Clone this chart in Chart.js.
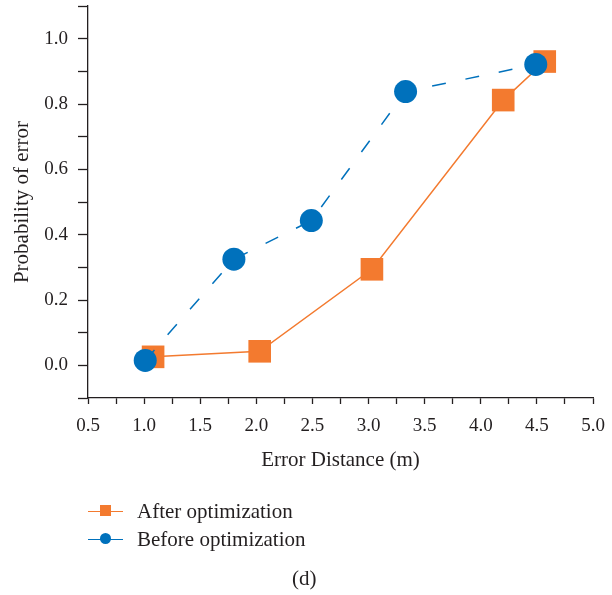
<!DOCTYPE html>
<html lang="en">
  <head>
    <meta charset="UTF-8" />
    <title>Probability of error</title>
    <script src="https://cdn.jsdelivr.net/npm/chart.js"></script>
    <style>
      body { margin: 0; background: #fff; }
      #wrap { position: relative; width: 612px; height: 595px; font-family: "Liberation Serif", serif; color: #231f20; }
      .leg { position: absolute; left: 88px; height: 24px; }
      .leg .ico { position: absolute; left: 0; top: 11.5px; width: 35px; height: 0; border-top: 1.5px solid; }
      .leg .mk { position: absolute; left: 12px; top: -6.5px; width: 11px; height: 11px; }
      .leg .txt { position: absolute; left: 49px; top: 0; font-size: 21px; line-height: 24px; white-space: nowrap; }
      #cap { position: absolute; left: 292px; top: 566px; font-size: 21px; line-height: 24px; }
    </style>
  </head>
  <body>
    <div id="wrap">
      <canvas id="chart" width="612" height="595"></canvas>
      <!-- legend -->
      <div class="leg" style="top: 499px">
        <div class="ico" style="border-color: #f37a2f"><div class="mk" style="background: #f37a2f"></div></div>
        <div class="txt">After optimization</div>
      </div>
      <div class="leg" style="top: 527px">
        <div class="ico" style="border-color: #0071bc"><div class="mk" style="background: #0071bc; border-radius: 50%"></div></div>
        <div class="txt">Before optimization</div>
      </div>
      <div id="cap">(d)</div>
    </div>

    <script>
      // data
      var afterX = [1.08, 2.03, 3.03, 4.2, 4.57];
      var afterY = [0.026, 0.043, 0.294, 0.812, 0.93];
      var beforeX = [1.01, 1.8, 2.49, 3.33, 4.49];
      var beforeY = [0.015, 0.325, 0.443, 0.838, 0.921];

      var ink = "#231f20";

      function pts(xs, ys) {
        return xs.map(function (x, i) {
          return { x: x, y: ys[i] };
        });
      }

      var ctx = document.getElementById("chart").getContext("2d");
      var chart = new Chart(ctx, {
        type: "line",
        data: {
          datasets: [
            {
              label: "After optimization",
              data: pts(afterX, afterY),
              borderColor: "#f37a2f",
              backgroundColor: "#f37a2f",
              borderWidth: 1.5,
              pointStyle: "rect",
              pointRadius: 16,
              pointBorderWidth: 0,
              order: 1,
            },
            {
              label: "Before optimization",
              data: pts(beforeX, beforeY),
              borderColor: "#0071bc",
              backgroundColor: "#0071bc",
              borderWidth: 1.5,
              borderDash: [14, 20],
              pointStyle: "circle",
              pointRadius: 11.5,
              pointBorderWidth: 0,
              order: 0,
            },
          ],
        },
        options: {
          responsive: false,
          animation: false,
          devicePixelRatio: 1,
          // no auto padding: the big markers should not push the axes in
          layout: { autoPadding: false, padding: { left: 0, top: 6, right: 19, bottom: 120 } },
          plugins: { legend: { display: false }, tooltip: { enabled: false } },
          scales: {
            x: {
              type: "linear",
              min: 0.5,
              max: 5.0,
              afterFit: function (s) {
                s.height = 77;
                s.paddingLeft = 0;
                s.paddingRight = 0;
              },
              border: { color: ink, width: 1.3 },
              grid: { drawOnChartArea: false, tickLength: 6, tickColor: ink, tickWidth: 1.3 },
              ticks: {
                stepSize: 0.25,
                autoSkip: false,
                maxRotation: 0,
                padding: 11,
                color: ink,
                font: { family: "Liberation Serif", size: 19 },
                callback: function (v) {
                  var k = Math.round(v * 4);
                  return k % 2 === 0 ? (k / 4).toFixed(1) : "";
                },
              },
              title: {
                display: true,
                text: "Error Distance (m)",
                color: ink,
                font: { family: "Liberation Serif", size: 21 },
                padding: { top: 0, bottom: 2 },
              },
            },
            y: {
              min: -0.1,
              max: 1.1,
              afterFit: function (s) {
                s.width = 88;
                s.paddingTop = 0;
                s.paddingBottom = 0;
              },
              border: { color: ink, width: 1.3 },
              grid: { drawOnChartArea: false, tickLength: 10, tickColor: ink, tickWidth: 1.3 },
              ticks: {
                stepSize: 0.1,
                autoSkip: false,
                padding: 10,
                color: ink,
                font: { family: "Liberation Serif", size: 19 },
                callback: function (v) {
                  var k = Math.round(v * 10);
                  return k >= 0 && k <= 10 && k % 2 === 0 ? (k / 10).toFixed(1) : "";
                },
              },
              title: {
                display: true,
                text: "Probability of error",
                color: ink,
                font: { family: "Liberation Serif", size: 21 },
                padding: { top: 10, bottom: 0 },
              },
            },
          },
        },
      });
    </script>
  </body>
</html>
